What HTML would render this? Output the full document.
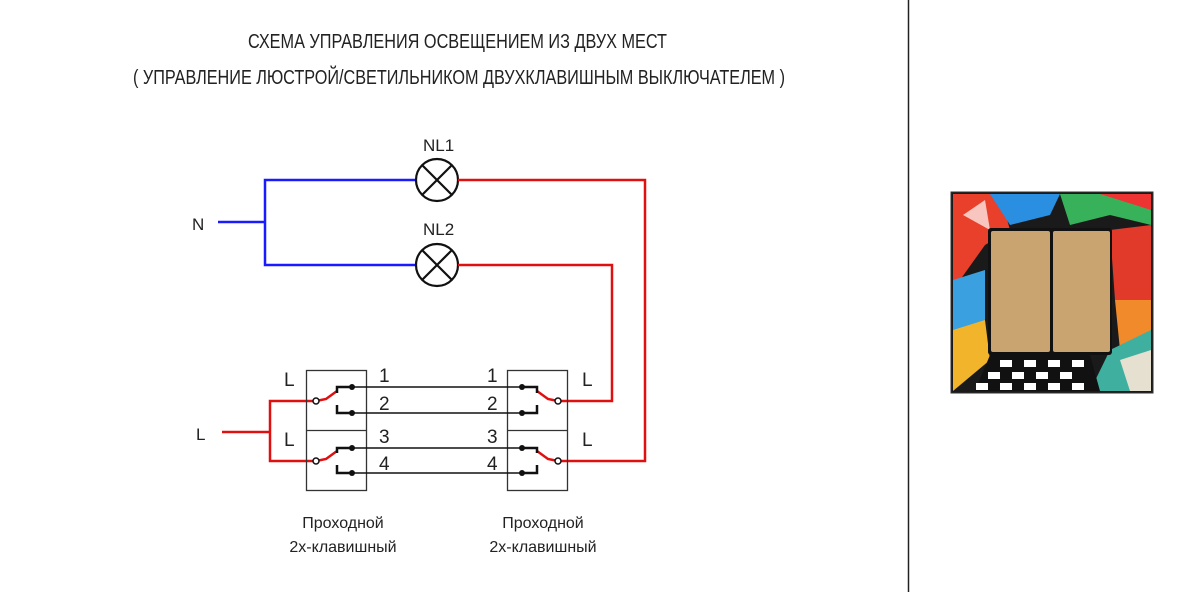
<!DOCTYPE html>
<html><head><meta charset="utf-8"><style>
html,body{margin:0;padding:0;background:#fff;}
svg{display:block;}
text{font-family:"Liberation Sans Narrow","Liberation Sans","DejaVu Sans Condensed",sans-serif;fill:#222;}
</style></head><body>
<svg width="1200" height="592" viewBox="0 0 1200 592" xmlns="http://www.w3.org/2000/svg">
<rect width="1200" height="592" fill="#fff"/>
<line x1="908.5" y1="0" x2="908.5" y2="592" stroke="#222" stroke-width="1.5"/>
<text x="248" y="48" font-size="20" textLength="419" lengthAdjust="spacingAndGlyphs">СХЕМА УПРАВЛЕНИЯ ОСВЕЩЕНИЕМ  ИЗ ДВУХ МЕСТ</text>
<text x="133" y="84" font-size="20" textLength="652" lengthAdjust="spacingAndGlyphs">( УПРАВЛЕНИЕ ЛЮСТРОЙ/СВЕТИЛЬНИКОМ  ДВУХКЛАВИШНЫМ ВЫКЛЮЧАТЕЛЕМ )</text>

<g stroke="#1a1aff" stroke-width="2.5" fill="none">
<polyline points="218,222 265,222"/>
<polyline points="416,180 265,180 265,265 416,265"/>
</g>
<text x="192" y="230" font-size="17">N</text>
<g stroke="#111" stroke-width="2.2" fill="#fff">
<circle cx="437" cy="180" r="21"/><circle cx="437" cy="265" r="21"/>
</g>
<g stroke="#111" stroke-width="2.2">
<line x1="422" y1="165" x2="452" y2="195"/><line x1="452" y1="165" x2="422" y2="195"/>
<line x1="422" y1="250" x2="452" y2="280"/><line x1="452" y1="250" x2="422" y2="280"/>
</g>
<text x="423" y="151" font-size="17">NL1</text>
<text x="423" y="235" font-size="17">NL2</text>
<g stroke="#e01010" stroke-width="2.5" fill="none">
<polyline points="458,180 645,180 645,461 558,461"/>
<polyline points="458,265 612,265 612,401 558,401"/>
<polyline points="222,432 270,432"/>
<polyline points="316,401 270,401 270,461 316,461"/>
<polyline points="316,401 326,399 337,391"/>
<polyline points="316,461 326,459 337,451"/>
<polyline points="558,401 548,399 537,391"/>
<polyline points="558,461 548,459 537,451"/>
</g>
<text x="196" y="440" font-size="17">L</text>
<g stroke="#333" stroke-width="1.3" fill="none">
<rect x="306.5" y="370.5" width="60" height="120"/><line x1="306" y1="430.5" x2="366" y2="430.5"/>
<rect x="507.5" y="370.5" width="60" height="120"/><line x1="507" y1="430.5" x2="567" y2="430.5"/>
</g>
<g stroke="#111" stroke-width="1.5">
<line x1="352" y1="387" x2="522" y2="387"/>
<line x1="352" y1="413" x2="522" y2="413"/>
<line x1="352" y1="448" x2="522" y2="448"/>
<line x1="352" y1="473" x2="522" y2="473"/>
</g>
<g stroke="#111" stroke-width="2.5" fill="none">
<polyline points="337,393 337,387 352,387"/><polyline points="337,405 337,413 352,413"/>
<polyline points="337,453 337,448 352,448"/><polyline points="337,465 337,473 352,473"/>
<polyline points="537,393 537,387 522,387"/><polyline points="537,405 537,413 522,413"/>
<polyline points="537,453 537,448 522,448"/><polyline points="537,465 537,473 522,473"/>
</g>
<g fill="#111">
<circle cx="352" cy="387" r="3"/><circle cx="352" cy="413" r="3"/><circle cx="352" cy="448" r="3"/><circle cx="352" cy="473" r="3"/>
<circle cx="522" cy="387" r="3"/><circle cx="522" cy="413" r="3"/><circle cx="522" cy="448" r="3"/><circle cx="522" cy="473" r="3"/>
</g>
<g fill="#fff" stroke="#111" stroke-width="1.5">
<circle cx="316" cy="401" r="3"/><circle cx="316" cy="461" r="3"/><circle cx="558" cy="401" r="3"/><circle cx="558" cy="461" r="3"/>
</g>
<g font-size="19">
<text x="379" y="382">1</text><text x="379" y="410">2</text><text x="379" y="443">3</text><text x="379" y="470">4</text>
<text x="487" y="382">1</text><text x="487" y="410">2</text><text x="487" y="443">3</text><text x="487" y="470">4</text>
<text x="284" y="386">L</text><text x="284" y="446">L</text>
<text x="582" y="386">L</text><text x="582" y="446">L</text>
</g>
<g font-size="16" text-anchor="middle">
<text x="343" y="528">Проходной</text><text x="343" y="552">2х-клавишный</text>
<text x="543" y="528">Проходной</text><text x="543" y="552">2х-клавишный</text>
</g>
<g>
<rect x="951" y="192" width="202" height="201" fill="#1a1a1a"/>
<path d="M953 194 L1000 194 L1010 230 L985 245 L960 280 L953 280Z" fill="#e8402a"/>
<path d="M990 194 L1060 194 L1050 215 L1010 225Z" fill="#2a8fe0"/>
<path d="M1060 194 L1151 194 L1151 225 L1110 215 L1070 225Z" fill="#38b25a"/>
<path d="M1100 194 L1151 194 L1151 210 Z" fill="#e33"/>
<path d="M1110 230 L1151 225 L1151 300 L1115 300Z" fill="#e23a2a"/>
<path d="M953 280 L985 270 L985 330 L953 360Z" fill="#3aa0e0"/>
<path d="M953 330 L985 320 L990 360 L953 391Z" fill="#f2b42a"/>
<path d="M1115 300 L1151 300 L1151 340 L1120 350Z" fill="#f08a2a"/>
<path d="M1110 350 L1151 330 L1151 391 L1090 391Z" fill="#3fb0a0"/>
<path d="M1120 360 L1151 350 L1151 391 L1130 391Z" fill="#e5e0d0"/>
<path d="M963 215 L985 200 L990 230 Z" fill="#fff" opacity=".7"/>
<path d="M990 355 L1090 355 L1100 391 L975 391Z" fill="#111"/>
<g fill="#fff">
<rect x="1000" y="360" width="12" height="7"/><rect x="1024" y="360" width="12" height="7"/><rect x="1048" y="360" width="12" height="7"/><rect x="1072" y="360" width="12" height="7"/>
<rect x="988" y="372" width="12" height="7"/><rect x="1012" y="372" width="12" height="7"/><rect x="1036" y="372" width="12" height="7"/><rect x="1060" y="372" width="12" height="7"/>
<rect x="976" y="383" width="12" height="7"/><rect x="1000" y="383" width="12" height="7"/><rect x="1024" y="383" width="12" height="7"/><rect x="1048" y="383" width="12" height="7"/><rect x="1072" y="383" width="12" height="7"/>
</g>
<rect x="988" y="228" width="124" height="127" rx="3" fill="#111"/>
<rect x="991" y="231" width="59" height="121" rx="2" fill="#c9a471"/>
<rect x="1053" y="231" width="57" height="121" rx="2" fill="#c9a471"/>
<rect x="951" y="192" width="202" height="201" fill="none" stroke="#333" stroke-width="1"/>
</g>
</svg>
</body></html>
